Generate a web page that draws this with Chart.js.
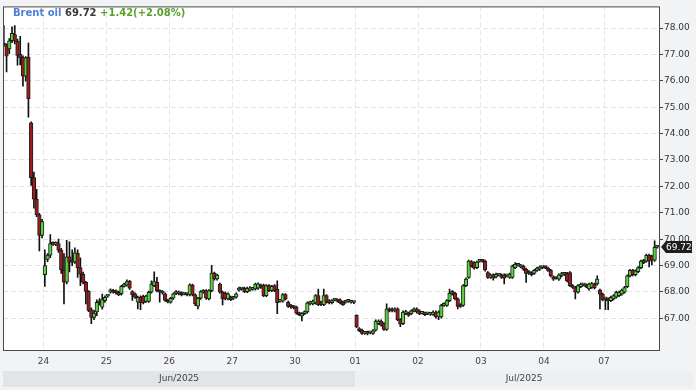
<!DOCTYPE html>
<html>
<head>
<meta charset="utf-8">
<script src="https://cdn.jsdelivr.net/npm/chart.js@4.4.1/dist/chart.umd.min.js"></script>
<style>
  html, body { margin: 0; padding: 0; background: #f2f3f5; }
  #wrap { position: relative; width: 696px; height: 390px; }
  #head {
    position: absolute; left: 13px; top: 7px;
    font: bold 10px "DejaVu Sans", sans-serif; line-height: 12px;
    white-space: nowrap;
  }
  #head .name { color: #4d7fd8; }
  #head .last { color: #3a3a3a; }
  #head .chg { color: #5ca02c; }
</style>
</head>
<body>
<div id="wrap">
  <canvas id="chart" width="696" height="390"></canvas>
  <div id="head"><span class="name">Brent oil</span> <span class="last" id="last"></span> <span class="chg" id="chg"></span></div>
</div>
<script>
// day labels on the x axis and how many hourly candles each day holds
const dayLabels = ['24', '25', '26', '27', '30', '01', '02', '03', '04', '07'];
const dayCandles = [23, 23, 23, 23, 22, 23, 23, 23, 22, 20];
const leadCandles = 15;          // candles of 23 Jun shown before the first label
const monthLabels = ['Jun/2025', 'Jul/2025'];
const julyStartDay = 5;          // index in dayLabels where July begins
const yTicks = [67, 68, 69, 70, 71, 72, 73, 74, 75, 76, 77, 78];
const prevClose = 68.30;

const opens = [
  77.42,77.34,77.21,77.52,77.75,77.50,77.00,76.88,76.18,76.90,74.41,72.33,71.52,70.92,70.14,
  68.65,69.23,69.39,69.83,69.80,69.83,69.58,68.83,68.37,69.33,69.20,69.14,69.46,68.92,68.67,68.36,68.02,67.33,67.03,67.24,67.66,67.42,67.67,
  67.84,67.99,68.06,68.04,67.99,67.93,68.21,68.26,68.40,68.01,67.93,67.61,67.80,67.83,67.64,67.64,67.99,68.24,68.36,68.05,67.96,67.93,67.68,
  67.61,67.76,67.94,67.93,67.96,67.92,67.93,67.89,68.26,67.89,67.46,67.76,67.99,68.05,67.74,68.05,68.71,68.49,68.30,67.99,67.96,67.74,67.80,
  67.76,67.80,68.07,68.11,68.14,68.01,68.07,68.10,68.11,68.14,68.26,68.26,67.86,68.24,68.05,68.24,68.11,67.64,67.65,67.90,67.61,67.49,67.45,
  67.42,67.20,67.08,67.18,67.24,67.55,67.55,67.58,67.86,67.61,67.52,67.86,67.67,67.59,67.69,67.70,67.70,67.61,67.61,67.64,67.61,67.60,
  67.11,66.61,66.55,66.43,66.48,66.45,66.43,66.55,66.80,66.90,66.80,66.58,67.36,67.36,67.28,67.36,66.95,66.80,67.18,67.20,67.18,67.28,67.36,
  67.28,67.19,67.20,67.17,67.15,67.15,67.24,67.05,67.05,67.49,67.49,67.67,67.95,67.95,67.74,67.52,67.49,68.24,68.55,69.15,69.11,68.92,69.16,
  69.17,69.17,68.73,68.55,68.65,68.57,68.64,68.65,68.65,68.61,68.55,68.55,68.92,69.01,68.95,68.98,68.86,68.77,68.73,68.70,68.82,68.86,68.92,
  68.93,68.90,68.82,68.57,68.52,68.48,68.61,68.67,68.70,68.73,68.24,68.17,67.99,68.20,68.27,68.27,68.11,68.17,68.30,68.30,68.07,67.92,
  67.74,67.74,67.67,67.74,67.80,67.86,67.92,67.99,68.20,68.61,68.82,68.65,68.77,68.92,69.20,69.17,69.39,69.36,69.20,69.70
];
const highs = [
  78.09,77.40,77.60,78.05,78.09,77.58,77.69,76.95,76.92,77.43,74.45,72.54,71.89,70.98,70.75,
  69.60,69.45,70.17,69.90,69.90,70.00,69.65,69.45,69.96,69.90,69.60,69.67,69.60,69.29,68.75,68.40,68.05,67.40,67.30,67.70,67.75,67.92,67.85,
  67.88,68.12,68.10,68.08,68.03,68.25,68.34,68.46,68.44,68.05,67.97,67.84,67.85,67.88,67.88,68.03,68.42,68.76,68.55,68.08,68.05,67.97,67.72,
  67.80,67.97,68.05,68.03,68.00,67.97,67.97,68.31,68.30,67.93,67.80,68.05,68.09,68.09,68.09,69.01,68.75,68.68,68.34,68.03,68.00,67.97,67.84,
  67.80,67.97,68.18,68.15,68.18,68.18,68.20,68.15,68.34,68.35,68.30,68.30,68.28,68.28,68.25,68.28,68.42,67.69,67.94,67.94,67.65,67.53,67.49,
  67.46,67.24,67.22,67.28,67.63,67.65,67.69,67.90,68.11,67.65,68.11,67.90,67.71,67.71,67.74,67.74,67.74,67.65,67.65,67.68,67.65,67.64,
  67.13,66.65,66.59,66.47,66.52,66.49,66.57,66.94,66.94,66.94,66.84,67.55,67.40,67.40,67.40,67.40,66.99,67.28,67.30,67.24,67.32,67.40,67.40,
  67.32,67.24,67.24,67.22,67.19,67.28,67.28,67.28,67.53,67.59,67.71,68.11,68.05,67.99,67.78,67.56,68.28,68.53,69.21,69.19,69.15,69.17,69.21,
  69.21,69.21,68.77,68.69,68.69,68.71,68.69,68.69,68.69,68.65,68.71,69.02,69.11,69.06,69.05,69.02,68.90,68.81,68.77,68.86,68.94,68.99,68.96,
  68.96,68.94,68.86,68.61,68.56,68.69,68.74,68.71,68.74,68.77,68.28,68.21,68.28,68.34,68.31,68.31,68.34,68.36,68.34,68.61,68.11,67.96,
  67.78,67.78,67.84,67.90,68.03,68.03,68.11,68.21,68.65,68.86,68.86,68.84,68.96,69.21,69.24,69.43,69.43,69.40,69.94,69.76
];
const lows = [
  77.30,76.34,77.03,77.45,77.40,76.59,76.60,75.80,75.99,74.62,72.04,71.17,70.85,69.55,70.05,
  68.21,69.15,69.30,69.76,69.75,69.50,68.70,67.55,68.30,68.76,69.00,69.08,68.55,68.24,68.30,67.55,67.25,66.80,66.95,67.10,67.50,67.35,67.60,
  67.80,67.95,67.95,67.92,67.86,67.88,68.18,68.22,68.10,67.68,67.75,67.36,67.33,67.55,67.60,67.60,67.95,68.20,68.00,67.61,67.92,67.64,67.58,
  67.57,67.72,67.90,67.89,67.85,67.89,67.85,67.85,67.85,67.48,67.36,67.72,67.95,67.72,67.70,68.00,68.45,68.45,67.95,67.51,67.70,67.70,67.67,
  67.72,67.76,68.03,68.07,67.97,67.97,68.03,68.07,68.07,68.10,68.13,67.82,67.82,68.01,68.01,68.01,67.18,67.61,67.61,67.70,67.41,67.38,67.36,
  67.16,67.10,66.90,67.14,67.20,67.51,67.51,67.54,67.48,67.48,67.48,67.57,67.55,67.55,67.66,67.61,67.55,67.49,67.57,67.60,67.57,67.56,
  66.65,66.49,66.39,66.39,66.37,66.41,66.39,66.51,66.76,66.70,66.54,66.54,67.24,67.24,67.24,66.91,66.68,66.76,67.14,67.07,67.14,67.24,67.20,
  67.14,67.16,67.10,67.14,67.11,67.11,67.01,66.95,67.01,67.45,67.45,67.63,67.88,67.70,67.36,67.41,67.45,68.20,68.51,68.94,68.86,68.88,69.13,
  69.13,68.79,68.51,68.51,68.45,68.53,68.61,68.51,68.30,68.57,68.51,68.51,68.88,68.98,68.91,68.82,68.36,68.66,68.61,68.66,68.78,68.82,68.88,
  68.88,68.78,68.57,68.44,68.48,68.44,68.57,68.63,68.38,68.20,68.13,67.74,67.95,68.16,68.23,68.16,68.07,68.13,68.11,68.26,67.36,67.66,
  67.33,67.33,67.63,67.70,67.76,67.82,67.88,67.95,68.16,68.57,68.61,68.61,68.73,68.88,69.07,69.13,68.95,69.02,69.16,69.66
];
const closes = [
  77.34,76.93,77.52,77.80,77.50,76.96,76.88,76.18,76.87,75.32,72.33,71.52,70.92,70.14,70.67,
  69.00,69.40,69.83,69.80,69.84,69.58,68.83,68.37,69.33,69.14,69.12,69.48,68.92,68.67,68.36,68.02,67.30,67.03,67.20,67.61,67.58,67.71,67.80,
  67.85,68.08,67.99,67.96,67.90,68.21,68.30,68.39,68.14,67.90,67.80,67.80,67.59,67.59,67.84,67.99,68.30,68.39,68.05,67.99,68.01,67.68,67.61,
  67.76,67.93,67.95,67.99,67.89,67.93,67.89,68.27,67.89,67.55,67.76,68.01,68.05,67.76,68.05,68.71,68.49,68.64,67.99,67.74,67.74,67.93,67.71,
  67.77,67.93,68.14,68.12,68.01,68.14,68.16,68.11,68.30,68.31,68.17,67.86,68.24,68.05,68.21,68.05,67.59,67.65,67.90,67.74,67.45,67.42,67.40,
  67.20,67.14,67.18,67.24,67.59,67.61,67.65,67.86,67.52,67.52,67.86,67.61,67.59,67.67,67.70,67.65,67.59,67.52,67.62,67.64,67.61,67.60,
  66.68,66.53,66.43,66.43,66.43,66.45,66.53,66.90,66.90,66.74,66.58,67.36,67.28,67.28,67.36,66.95,66.78,67.24,67.26,67.11,67.28,67.36,67.24,
  67.18,67.20,67.14,67.18,67.16,67.24,67.05,67.24,67.49,67.55,67.67,67.95,67.99,67.74,67.45,67.45,68.24,68.49,69.17,68.98,68.90,69.13,69.17,
  69.16,68.83,68.55,68.65,68.52,68.67,68.65,68.55,68.52,68.62,68.67,68.98,69.05,69.02,69.01,68.86,68.70,68.70,68.65,68.82,68.90,68.95,68.93,
  68.92,68.82,68.61,68.48,68.51,68.65,68.70,68.68,68.42,68.24,68.17,67.99,68.24,68.30,68.28,68.20,68.30,68.32,68.15,68.49,67.92,67.70,
  67.75,67.67,67.80,67.86,67.99,67.99,68.07,68.17,68.61,68.82,68.65,68.80,68.92,69.17,69.11,69.39,69.17,69.20,69.69,69.72
];

// first candle index of every labelled day
const dayStarts = [];
let acc = 0;
dayCandles.forEach(n => { dayStarts.push(acc); acc += n; });

const UP = '#58d43c', DOWN = '#9e1b1b', EDGE = '#1c1c1c';
const FONT = '"DejaVu Sans", sans-serif';

const xOf = i => i - leadCandles + 0.5;
const wickData = opens.map((o, i) => ({ x: xOf(i), y: [lows[i], highs[i]] }));
const bodyData = opens.map((o, i) => ({ x: xOf(i), y: [o, closes[i]] }));

const last = closes[closes.length - 1];
const diff = last - prevClose;
document.getElementById('last').textContent = last.toFixed(2);
document.getElementById('chg').textContent =
  (diff >= 0 ? '+' : '') + diff.toFixed(2) + '(' + (diff >= 0 ? '+' : '') + (diff / prevClose * 100).toFixed(2) + '%)';

const framePlugin = {
  id: 'frame',
  beforeDraw(chart) {
    const { ctx, chartArea: a } = chart;
    ctx.save();
    ctx.fillStyle = '#ffffff';
    ctx.fillRect(a.left, a.top, a.right - a.left, a.bottom - a.top);
    ctx.restore();
  },
  afterDraw(chart) {
    const { ctx, chartArea: a, scales } = chart;
    ctx.save();
    ctx.strokeStyle = '#4a4a4a';
    ctx.lineWidth = 1;
    ctx.strokeRect(a.left + 0.5, a.top + 0.5, a.right - a.left, a.bottom - a.top);

    // month band under the day labels
    const xb = scales.x.getPixelForValue(dayStarts[julyStartDay]);
    const top = 371, h = 16;
    ctx.fillStyle = '#e3e4e6';
    ctx.fillRect(a.left, top, xb - a.left, h);
    ctx.fillStyle = '#eeeff1';
    ctx.fillRect(xb, top, 693 - xb, h);
    ctx.fillStyle = '#444';
    ctx.font = '9px ' + FONT;
    ctx.textAlign = 'center';
    ctx.textBaseline = 'middle';
    ctx.fillText(monthLabels[0], (a.left + xb) / 2, top + h / 2);
    ctx.fillText(monthLabels[1], (xb + 693) / 2, top + h / 2);

    // last price tag
    const y = Math.round(scales.y.getPixelForValue(last));
    const x0 = a.right + 2;
    ctx.fillStyle = '#1e1e1e';
    ctx.beginPath();
    ctx.moveTo(x0, y);
    ctx.lineTo(x0 + 5, y - 6);
    ctx.lineTo(x0 + 31, y - 6);
    ctx.lineTo(x0 + 31, y + 6);
    ctx.lineTo(x0 + 5, y + 6);
    ctx.closePath();
    ctx.fill();
    ctx.fillStyle = '#ffffff';
    ctx.textAlign = 'left';
    ctx.fillText(last.toFixed(2), x0 + 5, y + 0.5);
    ctx.restore();
  }
};

new Chart(document.getElementById('chart'), {
  type: 'bar',
  data: {
    datasets: [
      {
        label: 'body',
        data: bodyData,
        order: 0,
        grouped: false,
        barThickness: 3.6,
        minBarLength: 2,
        borderWidth: 1,
        borderSkipped: false,
        borderColor: EDGE,
        backgroundColor: c => closes[c.dataIndex] >= opens[c.dataIndex] ? UP : DOWN
      },
      {
        label: 'wick',
        data: wickData,
        order: 1,
        grouped: false,
        barThickness: 1,
        borderWidth: 0,
        backgroundColor: '#111'
      }
    ]
  },
  options: {
    responsive: false,
    animation: false,
    layout: { padding: { left: 3, top: 2, right: 0, bottom: 0 } },
    plugins: { legend: { display: false }, tooltip: { enabled: false } },
    scales: {
      x: {
        type: 'linear',
        position: 'bottom',
        min: -14.8,
        max: 225.1,
        offset: false,
        afterFit: s => { s.height = 40; },
        afterBuildTicks: s => { s.ticks = dayStarts.map(v => ({ value: v })); },
        grid: { color: '#e6e6e6', drawTicks: false, offset: false },
        border: { display: false, dash: [5, 3] },
        ticks: {
          autoSkip: false, maxRotation: 0, padding: 6,
          color: '#444', font: { family: FONT, size: 9 },
          callback: v => { const k = dayStarts.indexOf(v); return k >= 0 ? dayLabels[k] : ''; }
        }
      },
      y: {
        position: 'right',
        min: 65.80,
        max: 78.82,
        afterFit: s => { s.width = 37; },
        afterBuildTicks: s => { s.ticks = yTicks.map(v => ({ value: v })); },
        grid: { color: '#e2e2e2', tickLength: 4, tickColor: '#444' },
        border: { display: false, dash: [5, 3] },
        ticks: {
          padding: 1, color: '#333', font: { family: FONT, size: 9 },
          callback: v => v.toFixed(2)
        }
      }
    }
  },
  plugins: [framePlugin]
});
</script>
</body>
</html>
